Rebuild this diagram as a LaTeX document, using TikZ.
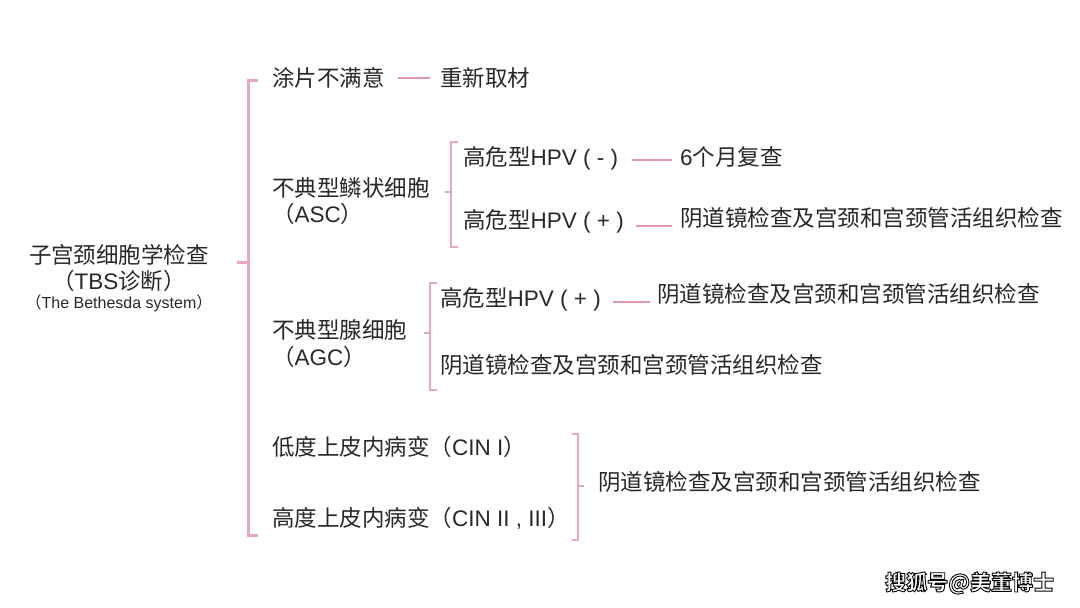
\documentclass[tikz,border=0pt]{standalone}
\usepackage{fontspec}
\setmainfont{Noto Sans CJK SC}
\newfontfamily\lat{Liberation Sans}
\usepackage{tikz}
\usetikzlibrary{positioning}
\usetikzlibrary{calc}
\definecolor{ink}{RGB}{40, 40, 40}
\definecolor{rose}{RGB}{232, 168, 192}
\definecolor{roseline}{RGB}{222, 150, 178}

\tikzset{
  txt/.style={anchor=west, inner sep=0pt, text=ink,
              font=\fontsize{22.5}{27}\selectfont,
              text height=19pt, text depth=3pt},
  mid/.style={txt, anchor=center},
  tiny/.style={mid, font=\fontsize{16}{19}\selectfont,
               text height=13.5pt, text depth=2.5pt},
  brace/.style={draw=rose, line width=2pt},
  bigbrace/.style={draw=rose, line width=3pt},
  link/.style={draw=roseline, line width=1.6pt}
}

\begin{document}
\begin{tikzpicture}[x=1pt, y=-1pt]

        \useasboundingbox (0,0) rectangle (1080,608);
        \fill[white] (0,0) rectangle (1080,608);

        % root
        \node[mid] (root) at (119, 255) {子宫颈细胞学检查};
        \node[mid] (tbs) at (119, 281) {（{\lat TBS}诊断）};
        \node[tiny] (beth) at (119, 303) {（{\lat The Bethesda system}）};

        \draw[bigbrace] (258, 80) -- (248, 80) -- (248, 535) -- (258, 535);
        \draw[bigbrace] (248, 262) -- (237, 262);

        % unsatisfactory smear
        \node[txt] (smear) at (272, 78) {涂片不满意};
        \node[txt] (redo) at (440, 78) {重新取材};
        \draw[link] ([xshift=13pt]smear.east) -- ([xshift=-10pt]redo.west);

        % ASC
        \node[txt] (asc) at (272, 188) {不典型鳞状细胞};
        \node[txt] (ascab) at (272, 214) {（{\lat ASC}）};

        \draw[brace] (458, 142) -- (451, 142) -- (451, 247) -- (458, 247);
        \draw[brace] (451, 192) -- (445, 192);

        \node[txt] (ascneg) at (463, 157) {高危型{\lat HPV ( - )}};
        \node[txt] (recheck) at (680, 157) {{\lat 6}个月复查};
        \draw[link] ([xshift=14pt, yshift=-3pt]ascneg.east) -- ([xshift=-8pt, yshift=-3pt]recheck.west);

        \node[txt] (ascpos) at (463, 220) {高危型{\lat HPV ( + )}};
        \node[txt] (ascexam) at (680, 218) {阴道镜检查及宫颈和宫颈管活组织检查};
        \draw[link] ([xshift=12pt, yshift=-6pt]ascpos.east) -- ([xshift=-8pt, yshift=-8pt]ascexam.west);

        % AGC
        \node[txt] (agc) at (272, 330) {不典型腺细胞};
        \node[txt] (agcab) at (272, 357) {（{\lat AGC}）};

        \draw[brace] (437, 283) -- (430, 283) -- (430, 390) -- (437, 390);
        \draw[brace] (430, 333) -- (424, 333);

        \node[txt] (agcpos) at (440, 298) {高危型{\lat HPV ( + )}};
        \node[txt] (agcexam) at (657, 294) {阴道镜检查及宫颈和宫颈管活组织检查};
        \draw[link] ([xshift=12pt, yshift=-4pt]agcpos.east) -- ([xshift=-7pt, yshift=-8pt]agcexam.west);

        \node[txt] (agcdirect) at (440, 365) {阴道镜检查及宫颈和宫颈管活组织检查};

        % CIN
        \node[txt] (low) at (272, 447) {低度上皮内病变（{\lat CIN I}）};
        \node[txt] (high) at (272, 518) {高度上皮内病变（{\lat CIN II , III}）};

        \draw[brace] (572, 434) -- (578, 434) -- (578, 540) -- (572, 540);
        \draw[brace] (578, 486) -- (584, 486);

        \node[txt] (cinexam) at (598, 482) {阴道镜检查及宫颈和宫颈管活组织检查};

        % watermark, white letters with a black outline
        \node[txt, font=\fontsize{21}{25}\selectfont\bfseries] (mark) at (885, 582)
          {\color{white}\special{pdf:literal direct 2 Tr 0.9 w 0 0 0 RG}搜狐号@美董博士\special{pdf:literal direct 0 Tr}};

    \end{tikzpicture}
\end{document}
